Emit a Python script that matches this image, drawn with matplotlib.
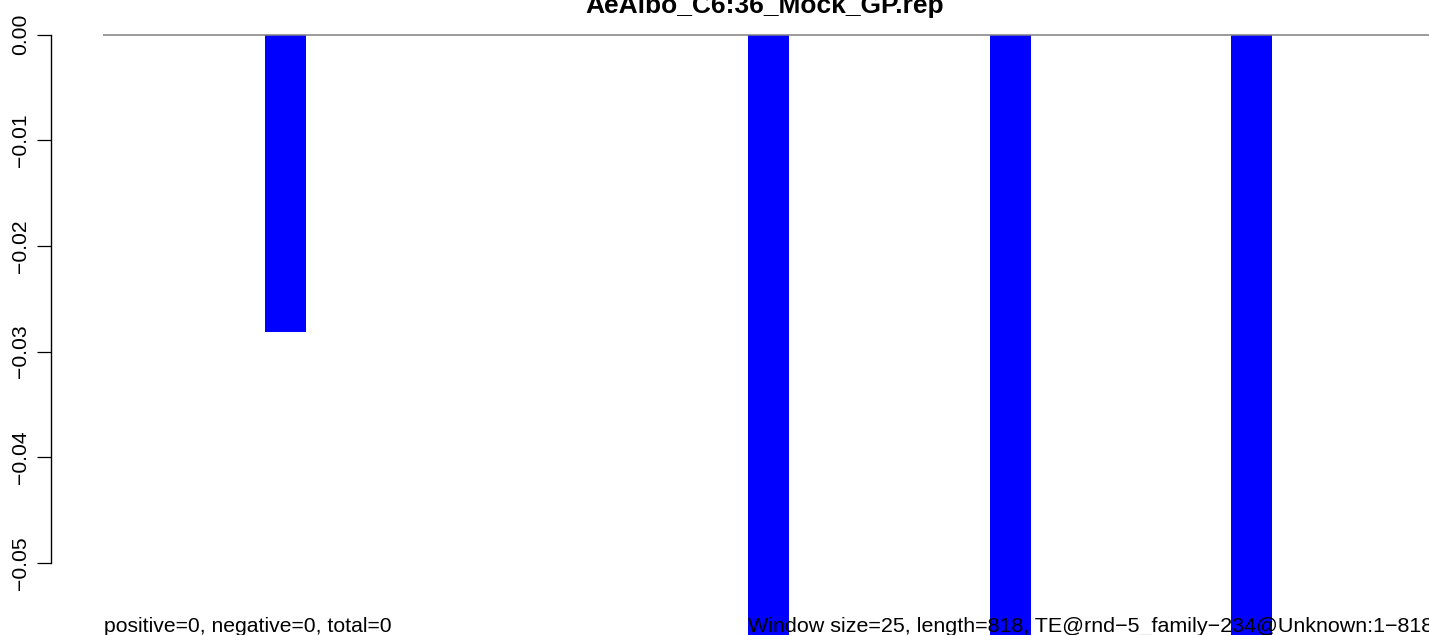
import matplotlib
matplotlib.use("Agg")
import matplotlib.pyplot as plt

plt.rcParams['font.family'] = ['Liberation Sans', 'DejaVu Sans']

# ---- data ----
title = "AeAlbo_C6:36_Mock_GP.rep"
window_size = 25
seq_length = 818
window_starts = [4, 16, 22, 28]          # window index (left edge)
window_values = [-0.0282, -0.06, -0.06, -0.06]
ytick_values = [0.00, -0.01, -0.02, -0.03, -0.04, -0.05]
ytick_labels = ["0.00", "\u22120.01", "\u22120.02", "\u22120.03", "\u22120.04", "\u22120.05"]
left_note = "positive=0, negative=0, total=0"
right_note = ("Window size=25, length=818, "
              "TE@rnd\u22125_family\u2212234@Unknown:1\u2212818")

W, H, DPI = 1429, 635, 100
fig = plt.figure(figsize=(W / DPI, H / DPI), dpi=DPI)

# axes placement in pixels
ax_left_px, ax_right_px = 50.7, 1474.0
ax_top_px, ax_bot_px = 20.0, 590.0
ax = fig.add_axes([ax_left_px / W, 1 - ax_bot_px / H,
                   (ax_right_px - ax_left_px) / W, (ax_bot_px - ax_top_px) / H])

n_windows = seq_length / window_size
ext = 0.04 * n_windows
ax.set_xlim(-ext, n_windows + ext)
# y mapping: 0 -> 34.7 px, -0.05 -> 562.7 px
ppu = (562.7 - 34.7) / 0.05
ax.set_ylim(-(ax_bot_px - 34.7) / ppu, (34.7 - ax_top_px) / ppu)

ax.bar(window_starts, window_values, width=1.02, align='edge',
       color='#0000FF', edgecolor='none', clip_on=False, zorder=2)
ax.plot([0, n_windows + ext], [0, 0], color='#808080', lw=1.1,
        zorder=3, clip_on=False, solid_capstyle='butt')

for s in ['top', 'right', 'bottom']:
    ax.spines[s].set_visible(False)
ax.spines['left'].set_bounds(-0.05, 0.0)
ax.spines['left'].set_linewidth(1.0)
ax.set_xticks([])
ax.set_yticks(ytick_values)
ax.set_yticklabels(ytick_labels, rotation=90, va='center', fontsize=15.25)
ax.tick_params(axis='y', length=10, width=0.9, pad=5)

fig.text(765 / W, 1 - 12.5 / H, title, ha='center', va='baseline',
         fontsize=19.0, fontweight='bold')
fig.text(104 / W, 1 - 632 / H, left_note, ha='left', va='baseline',
         fontsize=15.25)
fig.text(748 / W, 1 - 632 / H, right_note, ha='left', va='baseline',
         fontsize=15.45, zorder=5)

fig.savefig("out.png", dpi=DPI)
